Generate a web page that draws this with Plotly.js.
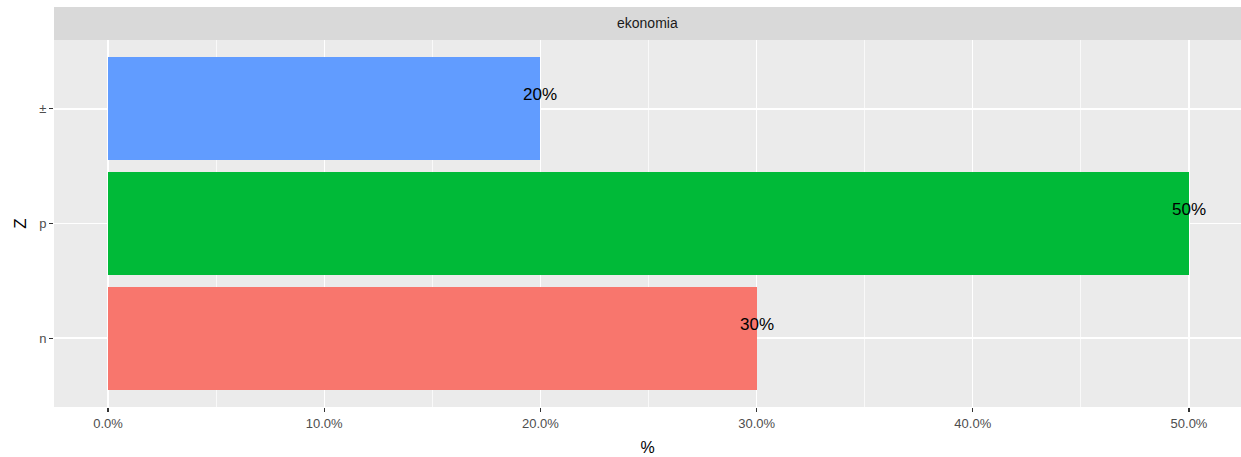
<!DOCTYPE html>
<html>
<head>
<meta charset="utf-8">
<script src="https://cdn.plot.ly/plotly-3.0.1.min.js"></script>
<style>html,body{margin:0;padding:0;background:#fff;}#chart{width:1241px;height:457px;}</style>
</head>
<body>
<div id="chart"></div>
<script>
const categories = ["n", "p", "±"];
const values = [0.30, 0.50, 0.20];
const labels = ["30%", "50%", "20%"];
const colors = ["#F8766D", "#00BA38", "#619CFF"];
const facetLabel = "ekonomia";
const xTickVals = [0, 0.1, 0.2, 0.3, 0.4, 0.5];

const font = "Liberation Sans, Arial, sans-serif";

const bars = {
  type: "bar",
  orientation: "h",
  x: values,
  y: categories,
  width: 0.9,
  marker: {color: colors, line: {width: 0}},
  hoverinfo: "x+y",
  showlegend: false
};

const plotH = 457 - 40 - 50;

const labelAnnotations = values.map((v, i) => ({
  x: v, y: categories[i], xref: "x", yref: "y",
  text: labels[i], showarrow: false,
  xanchor: "center", yanchor: "middle", yshift: 14,
  font: {family: font, size: 17, color: "#000000"}
}));

const layout = {
  width: 1241,
  height: 457,
  margin: {l: 54, r: 0, t: 40, b: 50, pad: 0},
  paper_bgcolor: "#ffffff",
  plot_bgcolor: "#EBEBEB",
  font: {family: font},
  showlegend: false,
  bargap: 0,
  xaxis: {
    range: [-0.02498, 0.52405],
    tickvals: xTickVals,
    tickformat: ".1%",
    showgrid: true,
    gridcolor: "#FFFFFF",
    gridwidth: 1.4,
    minor: {dtick: 0.05, tick0: 0, showgrid: true, gridcolor: "#FFFFFF", gridwidth: 0.7},
    zeroline: false,
    showline: false,
    ticks: "outside",
    ticklen: 4,
    tickwidth: 1.1,
    tickcolor: "#333333",
    tickfont: {family: font, size: 13, color: "#4D4D4D"},
    title: {text: "%", font: {family: font, size: 16, color: "#000000"}, standoff: 12},
    fixedrange: true
  },
  yaxis: {
    type: "category",
    categoryorder: "array",
    categoryarray: categories,
    range: [-0.6, 2.6],
    showgrid: true,
    gridcolor: "#FFFFFF",
    gridwidth: 1.4,
    zeroline: false,
    showline: false,
    ticks: "outside",
    ticklen: 4,
    tickwidth: 1.1,
    tickcolor: "#333333",
    tickfont: {family: font, size: 13, color: "#4D4D4D"},
    title: {text: "Z", font: {family: font, size: 17, color: "#000000"}, standoff: 8},
    fixedrange: true
  },
  shapes: [{
    type: "rect", xref: "paper", yref: "paper",
    x0: 0, x1: 1, y0: 1, y1: 1 + 33 / plotH,
    fillcolor: "#D9D9D9", line: {width: 0}, layer: "below"
  }],
  annotations: [{
    xref: "paper", yref: "paper", x: 0.5, y: 1 + 16.5 / plotH,
    xanchor: "center", yanchor: "middle", showarrow: false,
    text: facetLabel, font: {family: font, size: 14, color: "#1A1A1A"}
  }].concat(labelAnnotations)
};

Plotly.newPlot("chart", [bars], layout, {displayModeBar: false, staticPlot: true});
</script>
</body>
</html>
